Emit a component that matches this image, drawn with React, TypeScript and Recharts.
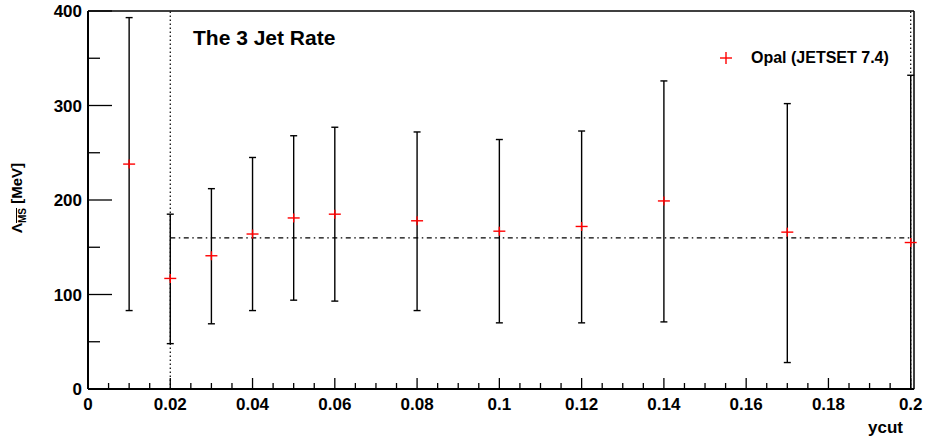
import React from "react";
import { ComposedChart, Scatter, ErrorBar, XAxis, YAxis, ReferenceLine } from "recharts";

// ycut points and fitted Lambda_MS with lower / upper error limits (MeV)
const ycut = [0.01, 0.02, 0.03, 0.04, 0.05, 0.06, 0.08, 0.1, 0.12, 0.14, 0.17, 0.2];
const lambda = [238, 117, 141, 164, 181, 185, 178, 167, 172, 199, 166, 155];
const lowLimit = [83, 48, 69, 83, 94, 93, 83, 70, 70, 71, 28, 0];
const highLimit = [393, 185, 212, 245, 268, 277, 272, 264, 273, 326, 302, 332];

const meanLambda = 160;
const fitRange = [0.02, 0.2];

const xMajorTicks = [0, 0.02, 0.04, 0.06, 0.08, 0.1, 0.12, 0.14, 0.16, 0.18, 0.2];
const xMinorStep = 0.005;
const yTicks = [0, 50, 100, 150, 200, 250, 300, 350, 400];
const yMajorTicks = [0, 100, 200, 300, 400];

const xTicks: number[] = [];
for (let i = 0; i <= 40; i++) xTicks.push(+(i * xMinorStep).toFixed(3));

const data = ycut.map((x, i) => ({
  x,
  y: lambda[i],
  err: [lambda[i] - lowLimit[i], highLimit[i] - lambda[i]],
}));

const FONT = '"Liberation Sans", Arial, Helvetica, sans-serif';

const isMajorX = (v: number) => xMajorTicks.some((t) => Math.abs(t - v) < 1e-6);

const XTick = (props: any) => {
  const { x, y, payload } = props;
  const v = payload.value;
  const major = isMajorX(v);
  return (
    <g>
      <line x1={x} x2={x} y1={y} y2={y - (major ? 11 : 6)} stroke="#000" strokeWidth={1.3} />
      {major && (
        <text x={x} y={y + 21} textAnchor="middle" fontFamily={FONT} fontWeight="bold" fontSize={17} fill="#000">
          {String(Math.round(v * 100) / 100)}
        </text>
      )}
    </g>
  );
};

const YTick = (props: any) => {
  const { x, y, payload } = props;
  const v = payload.value;
  const major = yMajorTicks.includes(v);
  return (
    <g>
      <line x1={x} x2={x + (major ? 24 : 12)} y1={y} y2={y} stroke="#000" strokeWidth={1.3} />
      {major && (
        <text x={x - 6} y={y} dy="0.36em" textAnchor="end" fontFamily={FONT} fontWeight="bold" fontSize={17} fill="#000">
          {v}
        </text>
      )}
    </g>
  );
};

const Cross = (props: any) => {
  const { cx, cy } = props;
  return (
    <g>
      <line x1={cx - 6} x2={cx + 6} y1={cy} y2={cy} stroke="#ff0000" strokeWidth={1.4} />
      <line x1={cx} x2={cx} y1={cy - 4.5} y2={cy + 4.5} stroke="#ff0000" strokeWidth={1.4} />
    </g>
  );
};

export default function App() {
  return (
    <div style={{ position: "absolute", left: 0, top: 0, width: 925, height: 440, background: "#fff", fontFamily: FONT }}>
      <ComposedChart width={925} height={440} data={data} margin={{ top: 10, right: 10, left: 87, bottom: 50 }}>
        <XAxis
          dataKey="x"
          type="number"
          domain={[0, 0.2008]}
          ticks={xTicks}
          interval={0}
          tick={<XTick />}
          tickLine={false}
          tickSize={0}
          tickMargin={0}
          height={1}
          axisLine={{ stroke: "#000", strokeWidth: 2 }}
          label={{
            content: (p: any) => (
              <text x={p.viewBox.x + p.viewBox.width - 11} y={433} textAnchor="end" fontFamily={FONT} fontWeight="bold" fontSize={17} fill="#000">
                ycut
              </text>
            ),
          }}
        />
        <XAxis xAxisId="top" orientation="top" type="number" domain={[0, 0.2008]} height={1} tick={false} tickLine={false} axisLine={{ stroke: "#000", strokeWidth: 1.5 }} />
        <YAxis
          type="number"
          domain={[0, 400]}
          ticks={yTicks}
          interval={0}
          tick={<YTick />}
          tickLine={false}
          tickSize={0}
          tickMargin={0}
          width={1}
          axisLine={{ stroke: "#000", strokeWidth: 2 }}
          label={{
            content: () => (
              <text transform="translate(22,198) rotate(-90)" textAnchor="middle" fontFamily={FONT} fontWeight="bold" fontSize={15} fill="#000">
                Λ
                <tspan dy={4} fontSize={10} style={{ textDecoration: "overline" }}>MS</tspan>
                <tspan dy={-4}> [MeV]</tspan>
              </text>
            ),
          }}
        />
        <YAxis yAxisId="right" orientation="right" type="number" domain={[0, 400]} width={1} tick={false} tickLine={false} axisLine={{ stroke: "#000", strokeWidth: 1.5 }} />
        <ReferenceLine x={fitRange[0]} stroke="#000" strokeWidth={1.2} strokeDasharray="1.5 2.5" />
        <ReferenceLine x={fitRange[1]} stroke="#000" strokeWidth={1.2} strokeDasharray="1.5 2.5" />
        <ReferenceLine
          segment={[
            { x: fitRange[0], y: meanLambda },
            { x: fitRange[1], y: meanLambda },
          ]}
          stroke="#000"
          strokeWidth={1.2}
          strokeDasharray="5 3.5 1.5 3.5"
        />
        <Scatter dataKey="y" shape={<Cross />} isAnimationActive={false}>
          <ErrorBar dataKey="err" direction="y" width={3.5} stroke="#000" strokeWidth={1.4} isAnimationActive={false} />
        </Scatter>
      </ComposedChart>
      <div style={{ position: "absolute", left: 193, top: 26, fontSize: 21, fontWeight: "bold", color: "#000", whiteSpace: "nowrap", lineHeight: "24px" }}>
        The 3 Jet Rate
      </div>
      <div style={{ position: "absolute", left: 718, top: 48, display: "flex", alignItems: "center", whiteSpace: "nowrap" }}>
        <svg width={16} height={20}>
          <line x1={2} x2={14} y1={10} y2={10} stroke="#ff0000" strokeWidth={1.4} />
          <line x1={8} x2={8} y1={4} y2={16} stroke="#ff0000" strokeWidth={1.4} />
        </svg>
        <span style={{ marginLeft: 17, fontSize: 16, fontWeight: "bold", color: "#000", lineHeight: "20px" }}>Opal (JETSET 7.4)</span>
      </div>
    </div>
  );
}
